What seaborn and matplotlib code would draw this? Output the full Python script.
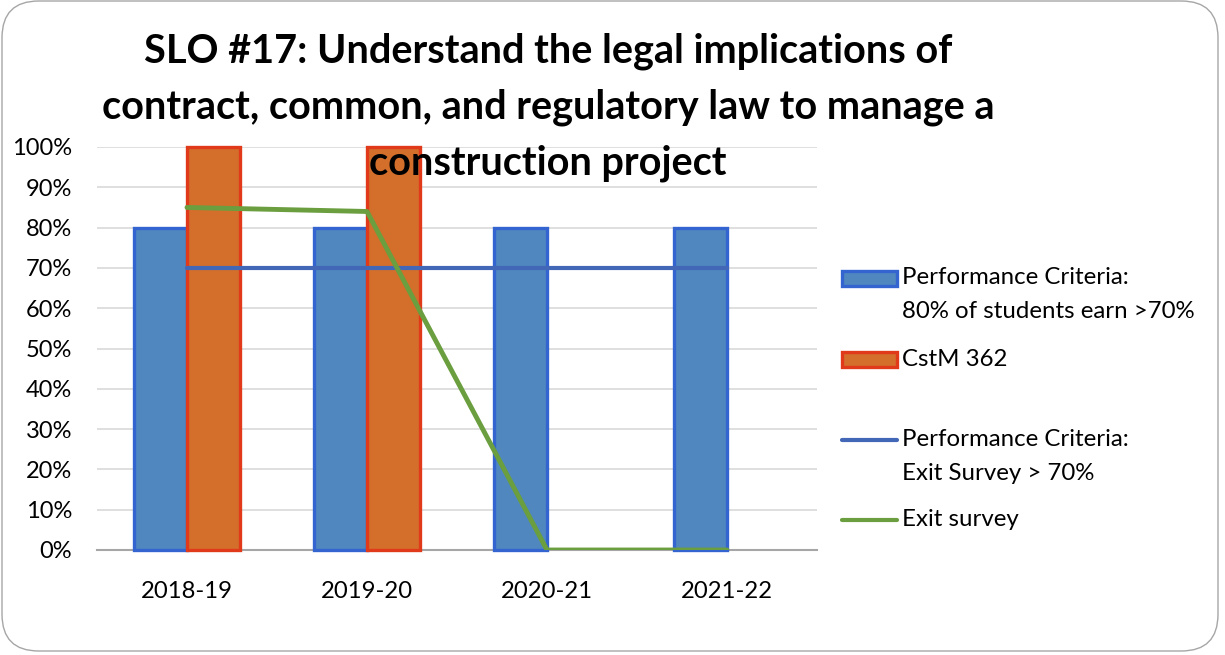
import numpy as np
import pandas as pd
import matplotlib
matplotlib.use("Agg")
import matplotlib.pyplot as plt
from matplotlib.patches import Rectangle, FancyBboxPatch
from matplotlib.lines import Line2D
from matplotlib.ticker import PercentFormatter, FixedLocator
import seaborn as sns

# ---- data ----
categories = ["2018-19", "2019-20", "2020-21", "2021-22"]
perf_criteria_bar = [0.80, 0.80, 0.80, 0.80]
cstm_362 = [1.00, 1.00, np.nan, np.nan]
perf_criteria_exit = [0.70, 0.70, 0.70, 0.70]
exit_survey = [0.85, 0.84, 0.00, 0.00]

bar_labels = ["Performance Criteria:\n80% of students earn >70%", "CstM 362"]
line_labels = ["Performance Criteria:\nExit Survey > 70%", "Exit survey"]
title_text = ("SLO #17: Understand the legal implications of\n"
              "contract, common, and regulatory law to manage a\n"
              "construction project")

# ---- style ----
sns.set_theme(style="white")
plt.rcParams["font.family"] = ["Lato", "DejaVu Sans"]

BAR_FILL = ["#4F87BE", "#D36E2B"]
BAR_EDGE = ["#3464D0", "#E03A1A"]
LINE_COL = ["#4267B7", "#6A9E3E"]

W, H = 1225, 655
fig = plt.figure(figsize=(W / 100, H / 100), dpi=100)
fig.patch.set_facecolor("white")

# rounded chart frame
frame = FancyBboxPatch((2 / W, 4 / H), 1216 / W, (H - 5) / H,
                       boxstyle="round,pad=0,rounding_size=0.03",
                       transform=fig.transFigure, facecolor="none",
                       edgecolor="#A6A6A6", linewidth=1.0, zorder=0,
                       mutation_aspect=W / H)
fig.patches.append(frame)

ax = fig.add_axes([97 / W, (H - 550) / H, (817 - 97) / W, (550 - 147) / H])
ax.set_facecolor("none")

df = pd.DataFrame({
    "cat": categories * 2,
    "val": perf_criteria_bar + cstm_362,
    "series": [bar_labels[0]] * 4 + [bar_labels[1]] * 4,
})
sns.barplot(data=df, x="cat", y="val", hue="series", order=categories,
            hue_order=bar_labels, palette=BAR_FILL, width=0.59,
            saturation=1, ax=ax, legend=False, zorder=3)
for cont, ec in zip(ax.containers, BAR_EDGE):
    for p in cont:
        p.set_edgecolor(ec)
        p.set_linewidth(2.4)
        p.set_clip_on(False)

xpos = np.arange(len(categories))
sns.lineplot(x=xpos, y=perf_criteria_exit, color=LINE_COL[0], linewidth=3,
             ax=ax, zorder=4)
sns.lineplot(x=xpos, y=exit_survey, color=LINE_COL[1], linewidth=3.5,
             ax=ax, zorder=5)

ax.set_xlim(-0.5, len(categories) - 0.5)
ax.set_ylim(0, 1.0)
ax.set_yticks(np.arange(0, 1.01, 0.1))
ax.yaxis.set_major_formatter(PercentFormatter(1.0, decimals=0))
ax.grid(axis="y", color="#D9D9D9", linewidth=1.2, zorder=0)
ax.set_axisbelow(True)
for s in ["top", "right", "left"]:
    ax.spines[s].set_visible(False)
ax.spines["bottom"].set_color("#A6A6A6")
ax.spines["bottom"].set_linewidth(1.5)
ax.spines["bottom"].set_zorder(2)
ax.set_xlabel("")
ax.set_ylabel("")
ax.tick_params(axis="y", length=0, labelsize=17, colors="black", pad=18)
ax.tick_params(axis="x", which="major", length=0, labelsize=17.2,
               colors="black", pad=22)
ax.xaxis.set_minor_locator(FixedLocator(np.arange(-0.5, len(categories), 1.0)))
ax.tick_params(axis="x", which="minor", direction="inout", length=16,
               width=1.2, color="#A6A6A6")

# title (overlaps plot area, as in the reference)
fig.text(548 / W, 1 - 107 / H, title_text, ha="center", va="center",
         fontsize=28.5, fontweight="bold", color="black", linespacing=1.62,
         zorder=10)

# legend (drawn entry by entry, marker aligned with first text line)
entry_y = [278, 359, 440, 520]      # px from top, first-line centres
line_step = 34
hx0, hx1, tx = 842, 897, 902
entries = [("bar", 0, bar_labels[0]), ("bar", 1, bar_labels[1]),
           ("line", 0, line_labels[0]), ("line", 1, line_labels[1])]
for (kind, idx, lab), yc in zip(entries, entry_y):
    if kind == "bar":
        fig.patches.append(Rectangle((hx0 / W, 1 - (yc + 7.5) / H),
                                     (hx1 - hx0) / W, 15 / H,
                                     transform=fig.transFigure,
                                     facecolor=BAR_FILL[idx],
                                     edgecolor=BAR_EDGE[idx], linewidth=2.4))
    else:
        fig.lines.append(Line2D([hx0 / W, hx1 / W], [1 - yc / H, 1 - yc / H],
                                transform=fig.transFigure,
                                color=LINE_COL[idx], linewidth=3))
    for k, part in enumerate(lab.split("\n")):
        fig.text(tx / W, 1 - (yc + k * line_step) / H, part, ha="left",
                 va="center", fontsize=17.3, color="black")

fig.savefig("out.png", dpi=100)
